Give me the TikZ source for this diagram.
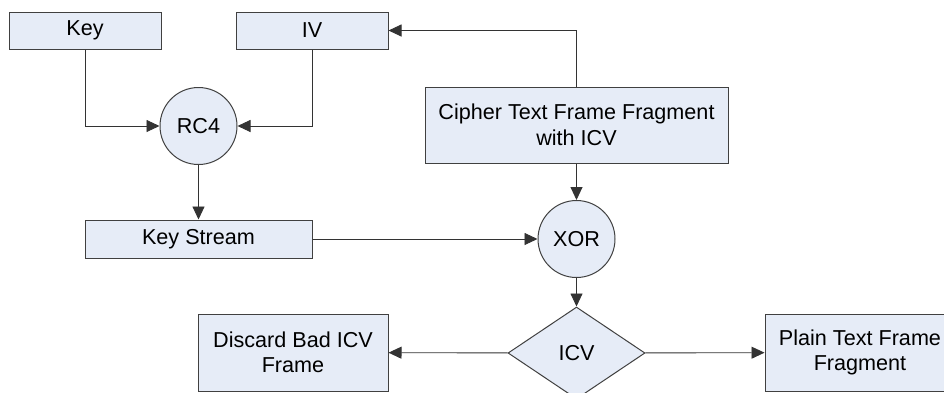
\documentclass[tikz,border=0pt]{standalone}
\usepackage{fontspec}
\setmainfont{Liberation Sans}
\usetikzlibrary{shapes.geometric,arrows.meta}
\definecolor{boxfill}{HTML}{E6ECF7}
\definecolor{boxline}{HTML}{404040}
\begin{document}
\begin{tikzpicture}[x=1pt,y=-1pt,
  every node/.style={font=\fontsize{21.6}{25.5}\selectfont, align=center, inner sep=0pt},
  box/.style={rectangle, draw=boxline, fill=boxfill, line width=1pt},
  rnd/.style={circle, draw=boxline, fill=boxfill, line width=1pt, minimum size=77pt},
  dia/.style={diamond, draw=boxline, fill=boxfill, line width=1pt, minimum width=137pt, minimum height=92pt, aspect=1.5},
  conn/.style={draw=black!80, line width=0.9pt, -{Triangle[length=13pt,width=12pt]}}
]
\useasboundingbox (0,0) rectangle (944,392);
\clip (0,0) rectangle (944,392);
\node[box, minimum width=152pt, minimum height=37pt] (key) at (85,30.5) {Key};
\node[box, minimum width=152pt, minimum height=37pt] (iv) at (312,30.5) {IV};
\node[rnd] (rc4) at (198.5,126) {RC4};
\node[box, minimum width=303pt, minimum height=76pt] (cipher) at (576.5,125) {Cipher Text Frame Fragment\\with ICV};
\node[box, minimum width=227pt, minimum height=38pt] (ks) at (198.5,239) {Key Stream};
\node[rnd] (xor) at (576.5,239) {XOR};
\node[dia] (icv) at (576.5,353) {ICV};
\node[box, minimum width=190pt, minimum height=77pt] (discard) at (293,352.5) {Discard Bad ICV\\Frame};
\node[box, minimum width=190pt, minimum height=77pt] (plain) at (860,352.5) {Plain Text Frame\\Fragment};
\draw[conn] (key.south) |- (rc4.west);
\draw[conn] (iv.south) |- (rc4.east);
\draw[conn] (cipher.north) |- (iv.east);
\draw[conn] (rc4) -- (ks);
\draw[conn] (ks) -- (xor);
\draw[conn] (cipher) -- (xor);
\draw[conn] (xor) -- (icv);
\draw[conn] (icv) -- (discard);
\draw[conn] (icv) -- (plain);
\end{tikzpicture}
\end{document}
